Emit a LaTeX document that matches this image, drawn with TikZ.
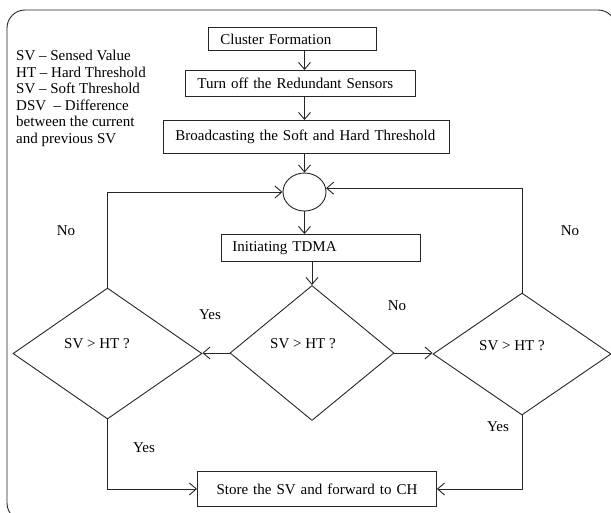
\documentclass[tikz,border=0pt]{standalone}
\usepackage{fontspec}
\setmainfont{Liberation Serif}
\usetikzlibrary{shapes.geometric,arrows.meta}
\begin{document}
\begin{tikzpicture}[x=1pt,y=-1pt,
  every node/.style={font=\fontsize{15}{16.5}\selectfont, text=black},
  line/.style={draw=black!85, line width=0.9pt},
  arr/.style={line, -{Straight Barb[length=7pt,width=12pt,line width=0.9pt]}},
  box/.style={line, rectangle, anchor=north west, inner ysep=0pt, align=left},
  dec/.style={line, diamond, inner sep=0pt},
  qlabel/.style={inner sep=0pt},
  note/.style={inner sep=0pt}]
\useasboundingbox (0,0) rectangle (611,512);
% outer frame, running past the page at right and bottom
\begin{scope}
  \clip (0,0) rectangle (611,512);
  \draw[line, rounded corners=18pt] (7,10) rectangle (616,521);
\end{scope}

% legend
\node[note, anchor=north west, align=left] (legend) at (16,50)
  {SV -- Sensed Value\\HT -- Hard Threshold\\SV -- Soft Threshold\\DSV\ \ -- Difference\\between the current\\and previous SV};

% process boxes
\node[box, inner xsep=12pt, text width=144pt, minimum height=23pt] (cf) at (208,27) {Cluster Formation};
\node[box, inner xsep=12pt, text width=206pt, minimum height=26pt] (off) at (185,70) {Turn off the Redundant Sensors};
\node[box, inner xsep=12pt, text width=262pt, minimum height=33pt] (bc) at (163,120) {Broadcasting the Soft and Hard Threshold};
\node[box, inner xsep=11pt, text width=177pt, minimum height=27pt] (td) at (221,234) {Initiating TDMA};
\node[box, align=center, inner xsep=10pt, text width=219pt, minimum height=35pt] (st) at (197,471) {Store the SV and forward to CH};

% junction
\node[line, ellipse, minimum width=43pt, minimum height=38pt, inner sep=0pt] (jn) at (304.5,192) {};

% decisions
\node[dec, minimum width=189pt, minimum height=131pt,
  label={[qlabel, name=ldq, xshift=-10.5pt, yshift=9.5pt]center:SV > HT ?}] (ld) at (107.5,353.5) {};
\node[dec, minimum width=164pt, minimum height=135pt,
  label={[qlabel, name=mdq, xshift=-9pt, yshift=9.5pt]center:SV > HT ?}] (md) at (312,353) {};
\node[dec, minimum width=178pt, minimum height=122pt,
  label={[qlabel, name=rdq, xshift=-10pt, yshift=8pt]center:SV > HT ?}] (rd) at (522,354) {};

% main flow
\draw[arr] (jn |- cf.south) -- (jn |- off.north);
\draw[arr] (jn |- off.south) -- (jn |- bc.north);
\draw[arr] (jn |- bc.south) -- (jn.north);
\draw[arr] (jn.south) -- (jn |- td.north);
\draw[arr] (md.north |- td.south) -- (md.north);
\draw[arr] (md.west) -- (md.west -| ld.east);
\draw[arr] (md.east) -- (md.east -| rd.west);

% loops back to the junction
\draw[arr] (ld.north) |- (jn.west);
\draw[arr] (rd.north) |- (jn.10);

% to the store box
\draw[arr] (ld.south) |- (st.west);
\draw[arr] (rd.south) |- (st.east);

% branch labels
\node[note] (noL) at (66,231) {No};
\node[note] (yesM) at (210,315) {Yes};
\node[note] (noM) at (397,306) {No};
\node[note] (noR) at (570,231) {No};
\node[note] (yesL) at (144,448) {Yes};
\node[note] (yesR) at (498,427) {Yes};
\end{tikzpicture}
\end{document}
